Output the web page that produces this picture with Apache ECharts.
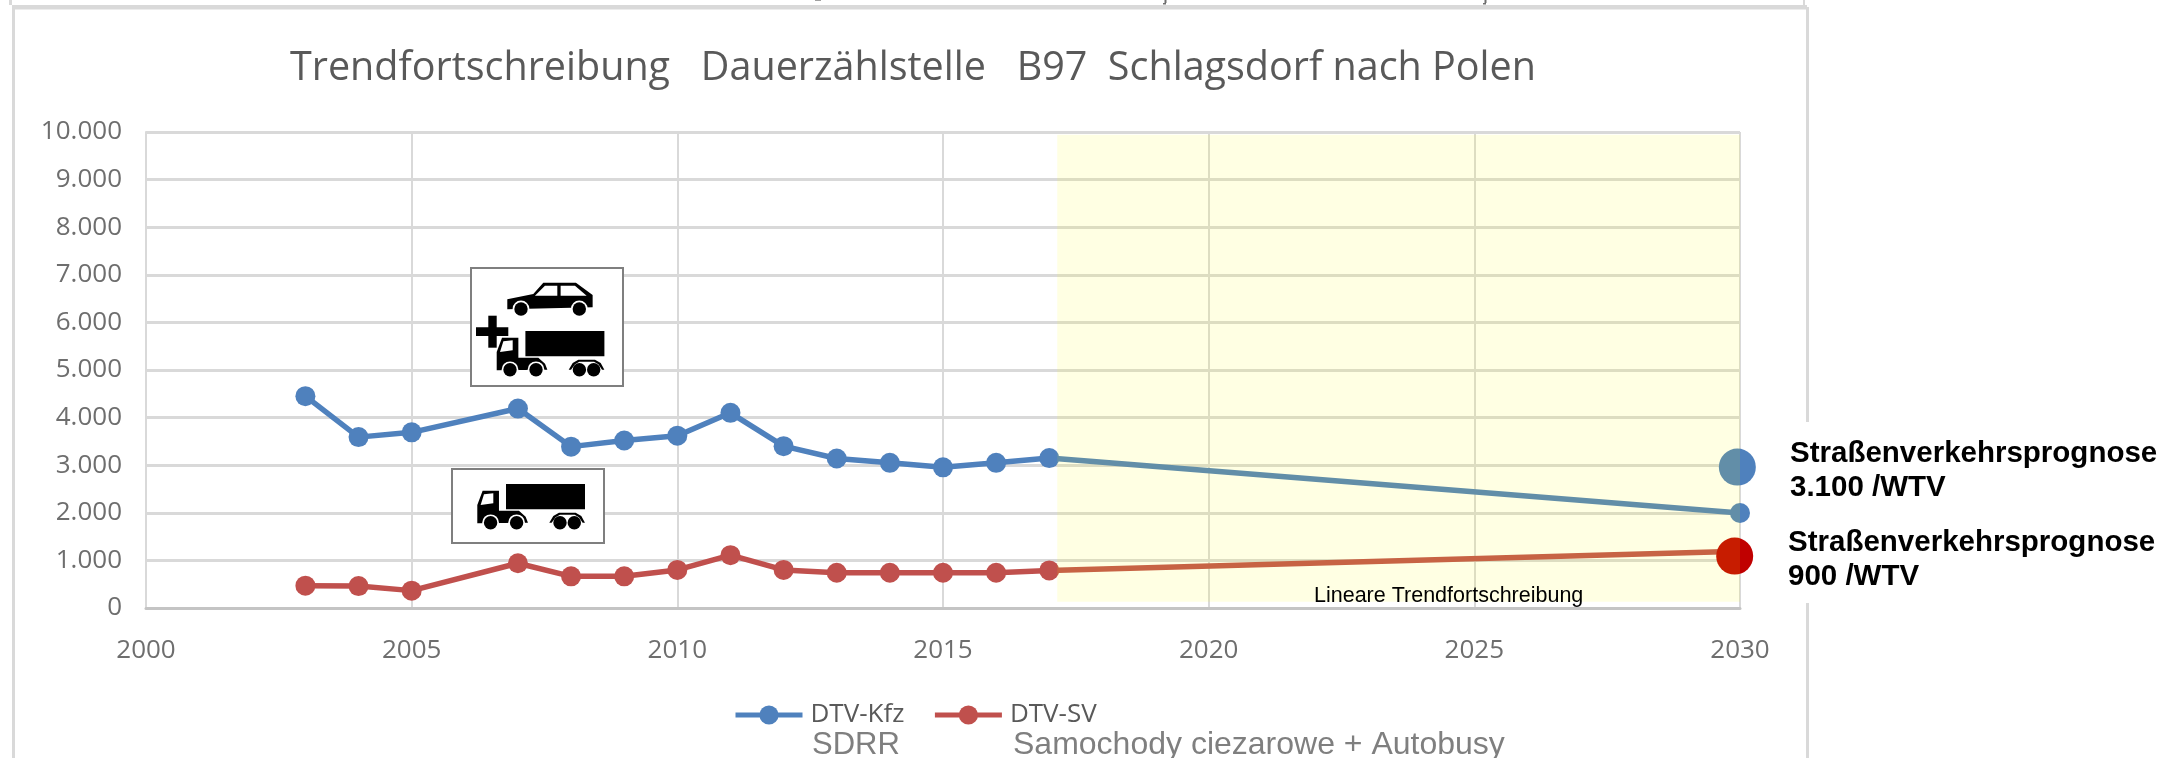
<!DOCTYPE html>
<html><head><meta charset="utf-8">
<script src="https://cdn.jsdelivr.net/npm/echarts@6/dist/echarts.min.js"></script>
<style>html,body{margin:0;padding:0;background:#fff}#c{width:2166px;height:758px}</style>
</head><body><div id="c"></div>
<script>
const years = [2003,2004,2005,2007,2008,2009,2010,2011,2012,2013,2014,2015,2016,2017,2030];
const dtvKfz = [4450,3590,3690,4190,3390,3520,3620,4100,3400,3140,3050,2955,3050,3150,1995];
const dtvSv = [470,460,365,940,665,665,800,1110,800,740,740,740,740,790,1190];
const prognoseKfz = [2029.95,2960];
const prognoseSv = [2029.9,1090];
const bandX = [2017.15,2030];
const bandY = [130,9940];
const titleText = 'Trendfortschreibung   Dauerzählstelle   B97  Schlagsdorf nach Polen';
const fmt = v => v === 0 ? '0' : (v/1000).toFixed(0) + '.000';

const BLACK = '#000', WHITE = '#fff';
function rect(x,y,w,h,fill){return {type:'rect',z:30,shape:{x,y,width:w,height:h},style:{fill}};}
function circ(cx,cy,r,fill){return {type:'circle',z:31,shape:{cx,cy,r},style:{fill}};}
function poly(pts,fill){return {type:'polygon',z:31,shape:{points:pts.map(p=>[p[0]/3,p[1]/3])},style:{fill}};}
function truck(ox,oy){
  return {type:'group',x:ox,y:oy,children:[
    rect(28.7,0.7,79,25.3,BLACK),
    poly([[0,120],[0,65],[16,22],[65,22],[65,82],[125,82],[145,100],[152,118],[0,120]],BLACK),
    poly([[10,65],[20,33],[48,30],[48,60]],WHITE),
    poly([[216,118],[228,98],[245,88],[295,88],[312,98],[323,118],[316,118],[305,102],[292,94],[248,94],[235,102],[223,118]],BLACK),
    circ(13.3,39.5,8.4,WHITE),circ(39.3,39.5,8.4,WHITE),
    circ(13.3,39.5,6.7,BLACK),circ(39.3,39.5,6.7,BLACK),
    circ(82.7,39.5,6.7,BLACK),circ(97,39.5,6.7,BLACK)
  ]};
}
function car(ox,oy){
  return {type:'group',x:ox,y:oy,children:[
    poly([[0,50],[78,34],[108,0],[206,0],[256,37],[256,74],[0,80]],BLACK),
    poly([[83,39],[113,9],[150,9],[150,39]],WHITE),
    poly([[160,9],[203,9],[238,39],[160,39]],WHITE),
    circ(13.7,26.3,8.4,WHITE),circ(72,26.3,8.4,WHITE),
    circ(13.7,26.3,6.7,BLACK),circ(72,26.3,6.7,BLACK)
  ]};
}
function box(x,y,w,h){return {type:'rect',z:29,shape:{x,y,width:w,height:h},style:{fill:WHITE,stroke:'#7f7f7f',lineWidth:2}};}
function label(text,x,y,font,fill){return {type:'text',z:32,x,y,style:{text,font,fill,verticalAlign:'middle',align:'left'}};}
const frame = '#d9d9d9';
const arial = '"Liberation Sans",Arial,sans-serif';
const graphics = [
  rect(12,5,1795,4.5,frame),
  rect(12,7,3,751,frame),
  rect(9,0,3,5,frame),
  rect(1806,7,3,415,frame),
  rect(1806,603,3,155,frame),
  rect(1803,0,2,5,frame),
  rect(1164.5,0,2,3,'#6e6e6e'),rect(1163,3,3,1.5,'#6e6e6e'),
  rect(1484.5,0,2,3,'#6e6e6e'),rect(1483,3,3,1.5,'#6e6e6e'),
  rect(815,0,6,1,'#a0a0a0'),
  box(471,268,152,118),
  car(507.3,282.7),
  rect(476,327.3,32.3,8.7,BLACK),
  rect(488.3,315.7,8.4,32,BLACK),
  truck(496.7,330.3),
  box(452,469,152,74),
  truck(477.3,483.3),
  label('Straßenverkehrsprognose',1790,454,'bold 29.5px '+arial,'#000'),
  label('3.100 /WTV',1790,488,'bold 29.5px '+arial,'#000'),
  label('Straßenverkehrsprognose',1788,543,'bold 29.5px '+arial,'#000'),
  label('900 /WTV',1788,577,'bold 29.5px '+arial,'#000'),
  label('Lineare Trendfortschreibung',1314,596,'21.5px '+arial,'#000'),
  label('SDRR',812,745,'31px '+arial,'#7f7f7f'),
  label('Samochody ciezarowe + Autobusy',1013,745,'32px '+arial,'#7f7f7f')
];

const chart = echarts.init(document.getElementById('c'),null,{renderer:'canvas'});
chart.setOption({
  animation:false,
  backgroundColor:'#fff',
  title:{text:titleText,left:290,top:49,padding:0,textStyle:{fontFamily:'"Open Sans"',fontWeight:'normal',fontSize:39.5,color:'#595959'}},
  legend:{data:['DTV-Kfz','DTV-SV'],left:733,top:702,padding:0,itemGap:28,itemWidth:67,itemHeight:24,
    lineStyle:{width:5},
    textStyle:{fontFamily:'"Open Sans"',fontSize:26,color:'#595959',padding:[0,0,0,3]}},
  grid:{left:146,right:426,top:132,bottom:150,containLabel:false},
  xAxis:{type:'value',min:2000,max:2030,interval:5,
    axisLine:{show:true,onZero:false,lineStyle:{color:'#c4c4c4',width:3}},axisTick:{show:false},
    splitLine:{show:true,lineStyle:{color:'#d9d9d9',width:2}},
    axisLabel:{fontFamily:'"Open Sans"',fontSize:26,color:'#6e6e6e',margin:30,formatter:v=>String(v),showMinLabel:true,showMaxLabel:true}},
  yAxis:{type:'value',min:0,max:10000,interval:1000,
    axisLine:{show:true,lineStyle:{color:'#d9d9d9',width:2}},axisTick:{show:false},
    splitLine:{show:true,lineStyle:{color:'#d9d9d9',width:3}},
    axisLabel:{fontFamily:'"Open Sans"',fontSize:26,color:'#6e6e6e',margin:24,padding:[3,0,0,0],formatter:fmt}},
  series:[
    {name:'DTV-Kfz',type:'line',z:3,clip:false,symbol:'circle',symbolSize:20,
     data:years.map((y,i)=>[y,dtvKfz[i]]),
     lineStyle:{color:'#4f81bd',width:5.5},itemStyle:{color:'#4f81bd'}},
    {name:'DTV-SV',type:'line',z:3,clip:false,symbol:'circle',symbolSize:20,
     data:years.map((y,i)=>[y,dtvSv[i]]),
     lineStyle:{color:'#c0504d',width:5.5},itemStyle:{color:'#c0504d'}},
    {name:'Prognose Kfz',type:'scatter',z:4,clip:false,symbolSize:37,data:[prognoseKfz],itemStyle:{color:'#4f81bd',opacity:1}},
    {name:'Prognose SV',type:'scatter',z:4,clip:false,symbolSize:37,data:[prognoseSv],itemStyle:{color:'#c00000',opacity:1}},
    {name:'Trendbereich',type:'line',z:10,data:[],silent:true,
     markArea:{silent:true,z:10,itemStyle:{color:'rgba(255,255,0,0.11)'},
       data:[[{xAxis:bandX[0],yAxis:bandY[0]},{xAxis:bandX[1],yAxis:bandY[1]}]]}}
  ],
  graphic:{elements:graphics}
});
</script></body></html>
